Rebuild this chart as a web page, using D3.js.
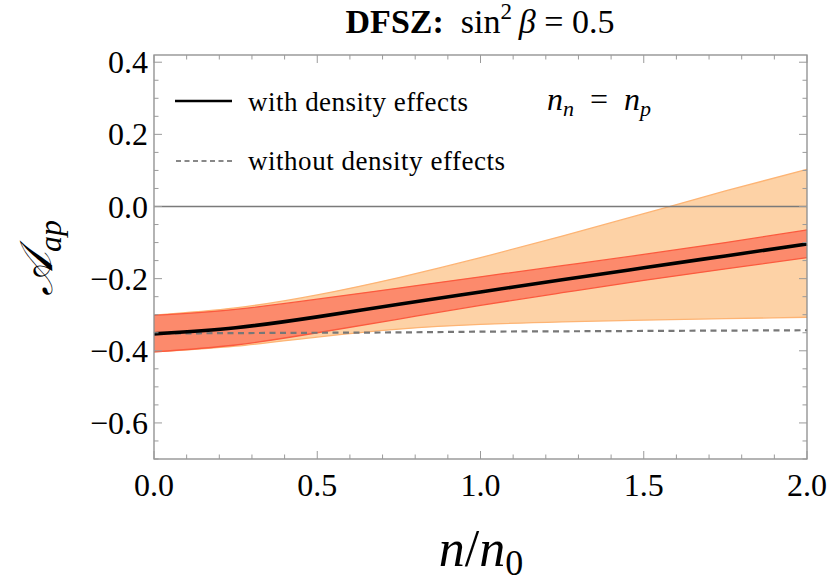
<!DOCTYPE html>
<html>
<head>
<meta charset="utf-8">
<script src="https://cdn.jsdelivr.net/npm/d3@7"></script>
<style>
  body { margin: 0; background: #fff; }
</style>
</head>
<body>
<div id="chart"></div>
<script>
// data
const xs = [0, 0.25, 0.5, 0.75, 1.0, 1.25, 1.5, 1.75, 2.0];
const central = [-0.353, -0.336, -0.306, -0.271, -0.237, -0.203, -0.170, -0.137, -0.104];
const redUpper = [-0.302, -0.285, -0.257, -0.226, -0.195, -0.164, -0.133, -0.100, -0.065];
const redLower = [-0.403, -0.384, -0.350, -0.312, -0.274, -0.239, -0.205, -0.173, -0.142];
const orangeUpper = [-0.301, -0.281, -0.245, -0.197, -0.142, -0.082, -0.020, 0.043, 0.103];
const orangeLower = [-0.403, -0.387, -0.362, -0.340, -0.327, -0.320, -0.315, -0.311, -0.307];
const noDensity = [-0.352, -0.351, -0.350, -0.349, -0.347, -0.346, -0.345, -0.344, -0.343];
const xTicks = [0, 0.5, 1.0, 1.5, 2.0];
const yTicks = [0.4, 0.2, 0.0, -0.2, -0.4, -0.6];

// layout
const W = 830, H = 586;
const margin = { top: 55, right: 23, bottom: 127, left: 154 };
const width = W - margin.left - margin.right;
const height = H - margin.top - margin.bottom;
const serif = "'Liberation Serif', 'DejaVu Serif', serif";

const svg = d3.select("#chart").append("svg")
    .attr("width", W)
    .attr("height", H)
    .attr("font-family", serif);

const g = svg.append("g")
    .attr("transform", `translate(${margin.left},${margin.top})`);

const x = d3.scaleLinear().domain([0, 2]).range([0, width]);
const y = d3.scaleLinear().domain([-0.7, 0.42]).range([height, 0]);

const pts = (arr) => xs.map((v, i) => ({ x: v, y: arr[i] }));
const band = (lo, hi) => xs.map((v, i) => ({ x: v, lo: lo[i], hi: hi[i] }));

const area = d3.area()
    .x(d => x(d.x))
    .y0(d => y(d.lo))
    .y1(d => y(d.hi))
    .curve(d3.curveNatural);

const line = d3.line()
    .x(d => x(d.x))
    .y(d => y(d.y))
    .curve(d3.curveNatural);

// orange band
g.append("path")
    .datum(band(orangeLower, orangeUpper))
    .attr("fill", "#fdd2a6")
    .attr("d", area);
[orangeUpper, orangeLower].forEach(arr => {
    g.append("path")
        .datum(pts(arr))
        .attr("fill", "none")
        .attr("stroke", "#fdb474")
        .attr("stroke-width", 1.3)
        .attr("d", line);
});

// red band
g.append("path")
    .datum(band(redLower, redUpper))
    .attr("fill", "#fc8a6c")
    .attr("d", area);
[redUpper, redLower].forEach(arr => {
    g.append("path")
        .datum(pts(arr))
        .attr("fill", "none")
        .attr("stroke", "#fb5a3e")
        .attr("stroke-width", 1.3)
        .attr("d", line);
});

// zero line
g.append("line")
    .attr("x1", 0).attr("x2", width)
    .attr("y1", y(0)).attr("y2", y(0))
    .attr("stroke", "#7a7a7a")
    .attr("stroke-width", 1.3);

// dashed: without density effects
g.append("path")
    .datum(pts(noDensity))
    .attr("fill", "none")
    .attr("stroke", "#777")
    .attr("stroke-width", 2.2)
    .attr("stroke-dasharray", "6,4.5")
    .attr("d", line);

// central line
g.append("path")
    .datum(pts(central))
    .attr("fill", "none")
    .attr("stroke", "#000")
    .attr("stroke-width", 3.6)
    .attr("d", line);

// frame
g.append("rect")
    .attr("width", width).attr("height", height)
    .attr("fill", "none")
    .attr("stroke", "#8c8c8c")
    .attr("stroke-width", 1.3);

// ticks (inside, on all four sides)
const tickCol = "#9a9a9a";
const xMinor = d3.range(0, 2.0001, 0.1);
const yMinor = d3.range(-0.7, 0.4201, 0.05).map(v => +v.toFixed(2));
const isMajorX = v => xTicks.some(t => Math.abs(t - v) < 1e-6);
const isMajorY = v => yTicks.some(t => Math.abs(t - v) < 1e-6);

xMinor.forEach(v => {
    const len = isMajorX(v) ? 8 : 4.5;
    g.append("line").attr("x1", x(v)).attr("x2", x(v)).attr("y1", height).attr("y2", height - len)
        .attr("stroke", tickCol).attr("stroke-width", 1);
    g.append("line").attr("x1", x(v)).attr("x2", x(v)).attr("y1", 0).attr("y2", len)
        .attr("stroke", tickCol).attr("stroke-width", 1);
});
yMinor.forEach(v => {
    const len = isMajorY(v) ? 8 : 4.5;
    g.append("line").attr("y1", y(v)).attr("y2", y(v)).attr("x1", 0).attr("x2", len)
        .attr("stroke", tickCol).attr("stroke-width", 1);
    g.append("line").attr("y1", y(v)).attr("y2", y(v)).attr("x1", width).attr("x2", width - len)
        .attr("stroke", tickCol).attr("stroke-width", 1);
});

// tick labels
g.selectAll(".xlab").data(xTicks).enter().append("text")
    .attr("x", d => x(d))
    .attr("y", height + 37)
    .attr("text-anchor", "middle")
    .style("font-size", "32px")
    .text(d => d.toFixed(1));

g.selectAll(".ylab").data(yTicks).enter().append("text")
    .attr("x", -6)
    .attr("y", d => y(d) + 11)
    .attr("text-anchor", "end")
    .style("font-size", "32px")
    .text(d => (d < 0 ? "\u2212" : "") + Math.abs(d).toFixed(1));

// title
const title = svg.append("text")
    .attr("x", 480)
    .attr("y", 33)
    .attr("text-anchor", "middle")
    .style("font-size", "34px");
title.append("tspan").style("font-weight", "bold").text("DFSZ:");
title.append("tspan").text("\u2002sin");
title.append("tspan").attr("dy", -14).style("font-size", "23px").text("2");
title.append("tspan").attr("dy", 14).style("font-style", "italic").text("\u2009\u03B2");
title.append("tspan").text(" = 0.5");

// legend
g.append("line")
    .attr("x1", 21).attr("x2", 78)
    .attr("y1", 46).attr("y2", 46)
    .attr("stroke", "#000").attr("stroke-width", 2.6);
g.append("text")
    .attr("x", 94).attr("y", 56)
    .attr("textLength", 220)
    .attr("lengthAdjust", "spacing")
    .style("font-size", "27px")
    .text("with density effects");

g.append("line")
    .attr("x1", 22).attr("x2", 78)
    .attr("y1", 106).attr("y2", 106)
    .attr("stroke", "#888").attr("stroke-width", 1.8)
    .attr("stroke-dasharray", "5,3.5");
g.append("text")
    .attr("x", 94).attr("y", 115)
    .attr("textLength", 257)
    .attr("lengthAdjust", "spacing")
    .style("font-size", "27px")
    .text("without density effects");

// n_n = n_p
const nn = g.append("text")
    .attr("x", 393).attr("y", 55)
    .style("font-size", "32px");
nn.append("tspan").style("font-style", "italic").text("n");
nn.append("tspan").attr("dy", 6).style("font-size", "22px").style("font-style", "italic").text("n");
nn.append("tspan").attr("dy", -6).text("\u2002=\u2002");
nn.append("tspan").style("font-style", "italic").text("n");
nn.append("tspan").attr("dy", 6).style("font-size", "22px").style("font-style", "italic").text("p");

// axis labels
const xl = svg.append("text")
    .attr("x", 481).attr("y", 566)
    .attr("text-anchor", "middle")
    .style("font-size", "52px");
xl.append("tspan").style("font-style", "italic").text("n");
xl.append("tspan").text("/");
xl.append("tspan").style("font-style", "italic").text("n");
xl.append("tspan").attr("dy", 9).style("font-size", "36px").text("0");

const yl = svg.append("text")
    .attr("transform", "translate(52,258) rotate(-90)")
    .attr("text-anchor", "middle")
    .style("font-size", "46px");
yl.append("tspan").style("font-style", "italic").text("\uD835\uDC9C");
yl.append("tspan").attr("dy", 9).style("font-size", "32px").style("font-style", "italic").text("ap");
</script>
</body>
</html>
